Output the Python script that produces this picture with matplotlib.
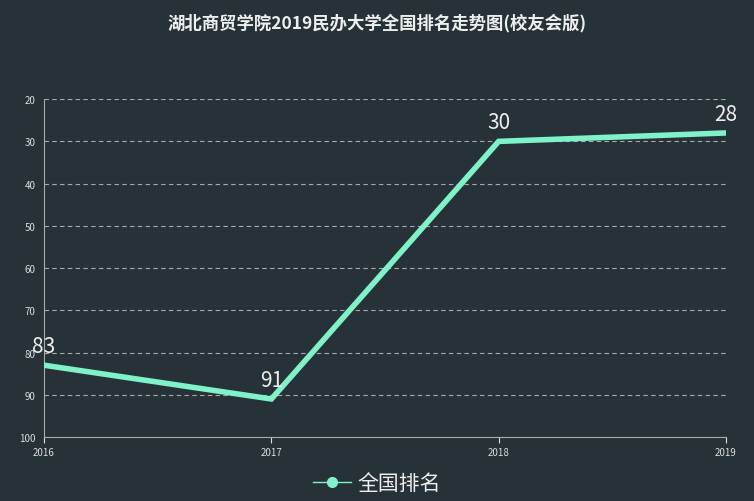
import matplotlib.pyplot as plt
from matplotlib.lines import Line2D

plt.rcParams['font.family'] = ['Noto Sans CJK SC', 'DejaVu Sans']

years = ['2016', '2017', '2018', '2019']
ranks = [83, 91, 30, 28]
bg = '#263238'
line_color = '#7ff2c8'

fig = plt.figure(figsize=(7.54, 5.02), dpi=100, facecolor=bg)
ax = fig.add_axes([0.0584, 0.1275, 0.9045, 0.673], facecolor=bg)

x = range(len(years))
ax.plot(x, ranks, color=line_color, lw=4, solid_joinstyle='miter', zorder=3)
for xi, r in zip(x, ranks):
    ax.annotate(str(r), (xi, r), xytext=(0, 6), textcoords='offset points',
                ha='center', va='bottom', color='#eeeeee', fontsize=15)

ax.set_xlim(0, len(years) - 1)
ax.set_ylim(100, 20)
ax.set_yticks(range(20, 101, 10))
ax.set_xticks(list(x))
ax.set_xticklabels(years)
ax.tick_params(colors='#dddddd', labelsize=7, length=4)
ax.tick_params(axis='y', length=0, pad=6)
ax.yaxis.grid(True, color='#aaaaaa', linestyle=(0, (4, 3)), lw=0.8)
for s in ['top', 'right']:
    ax.spines[s].set_visible(False)
ax.spines['left'].set_color('#aaaaaa')
ax.spines['bottom'].set_color('#aaaaaa')

fig.text(0.5, 0.955, '湖北商贸学院2019民办大学全国排名走势图(校友会版)',
         ha='center', va='center', color='#eeeeee', fontsize=12.5, fontweight='bold')

handle = Line2D([], [], color=line_color, lw=1, marker='o', markersize=7)
fig.legend([handle], ['全国排名'], loc='center', bbox_to_anchor=(0.5, 0.035),
           frameon=False, fontsize=15, labelcolor='#eeeeee', handlelength=1.8,
           handletextpad=0.3)

fig.savefig('out.png', dpi=100, facecolor=bg)
